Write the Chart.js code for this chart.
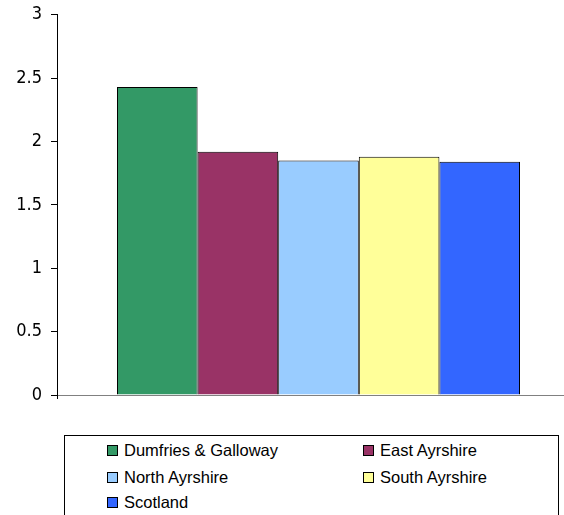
<!DOCTYPE html>
<html>
<head>
<meta charset="utf-8">
<script src="https://cdn.jsdelivr.net/npm/chart.js@4"></script>
<style>
  html, body { margin: 0; padding: 0; background: #fff; overflow: hidden; }
  #wrap { position: relative; width: 564px; height: 515px; overflow: hidden; }
  #chartBox { position: absolute; left: 0; top: -5px; width: 600px; height: 425px; }
  #legend {
    position: absolute; left: 64px; top: 435px; width: 495px; height: 100px;
    border: 1px solid #000; box-sizing: border-box;
    font-family: "Liberation Sans", Arial, sans-serif; font-size: 16.5px; color: #000;
  }
  .item { position: absolute; white-space: nowrap; line-height: 20px; }
  .sw { position: absolute; left: 0; top: 5px; width: 9px; height: 9px; border: 1px solid #000; }
  .txt { position: absolute; left: 17px; top: 0; }
</style>
</head>
<body>
<div id="wrap">
  <div id="chartBox"><canvas id="c"></canvas></div>
  <div id="legend"></div>
</div>
<script>
// datos
const regiones = ['Dumfries & Galloway', 'East Ayrshire', 'North Ayrshire', 'South Ayrshire', 'Scotland'];
const valores  = [2.43, 1.92, 1.85, 1.88, 1.84];
const colores  = ['#339966', '#993366', '#99CCFF', '#FFFF99', '#3366FF'];
const ticksY   = [0, 0.5, 1, 1.5, 2, 2.5, 3];

const datasets = regiones.map((r, i) => ({
  label: r,
  data: [valores[i]],
  backgroundColor: colores[i],
  borderColor: '#000',
  borderWidth: 1,
  barPercentage: 1,
  categoryPercentage: 0.7706,
}));

new Chart(document.getElementById('c'), {
  type: 'bar',
  data: { labels: [''], datasets },
  options: {
    responsive: true,
    maintainAspectRatio: false,
    animation: false,
    layout: { padding: { top: 8, right: 20, left: 0, bottom: 0 } },
    plugins: { legend: { display: false }, tooltip: { enabled: false } },
    scales: {
      x: {
        ticks: { display: false },
        grid: { display: true, drawOnChartArea: false, drawTicks: true, tickLength: 4, color: '#000', offset: true },
        border: { display: true, color: '#808080', width: 1 },
        afterFit: s => { s.height = 25; },
      },
      y: {
        min: 0, max: 3,
        afterBuildTicks: s => { s.ticks = ticksY.map(v => ({ value: v })); },
        ticks: {
          padding: 9,
          color: '#000',
          font: { family: '"DejaVu Sans Condensed", "DejaVu Sans", sans-serif', size: 18 },
          callback: v => String(v),
        },
        grid: { display: true, drawOnChartArea: false, drawTicks: true, tickLength: 6, color: '#000' },
        border: { display: true, color: '#000', width: 1 },
        afterFit: s => { s.width = 57; },
      },
    },
  },
});

// leyenda en recuadro, dos columnas
const legend = document.getElementById('legend');
const colX = [42, 298];
const rowY = [4, 31, 56];
regiones.forEach((r, i) => {
  const it = document.createElement('div');
  it.className = 'item';
  it.style.left = colX[i % 2] + 'px';
  it.style.top = rowY[Math.floor(i / 2)] + 'px';
  it.innerHTML = '<span class="sw" style="background:' + colores[i] + '"></span><span class="txt"></span>';
  it.querySelector('.txt').textContent = r;
  legend.appendChild(it);
});
</script>
</body>
</html>
